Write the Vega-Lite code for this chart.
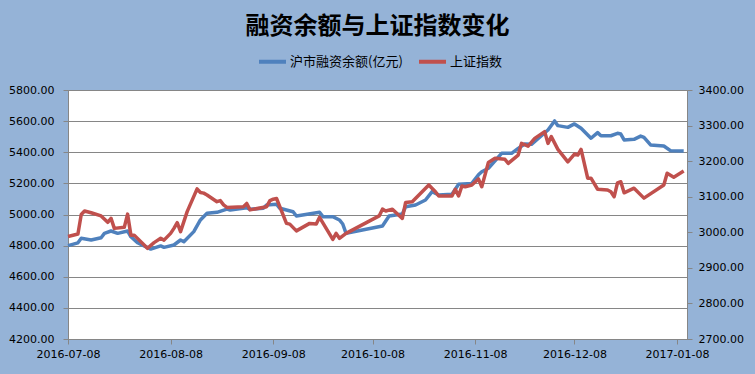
{
  "$schema": "https://vega.github.io/schema/vega-lite/v6.json",
  "width": 619,
  "height": 249,
  "autosize": {"type": "none"},
  "padding": {"left": 68, "top": 90, "right": 68, "bottom": 35},
  "background": "#95B3D7",
  "title": {
    "text": "融资余额与上证指数变化",
    "font": "Noto Sans CJK SC",
    "fontSize": 24,
    "fontWeight": "bold",
    "color": "#000000",
    "anchor": "middle",
    "offset": 7
  },
  "config": {
    "view": {"fill": "#FFFFFF", "stroke": "#868686", "strokeWidth": 1},
    "axis": {
      "labelFont": "DejaVu Sans",
      "labelFontSize": 11,
      "labelColor": "#000000",
      "domainColor": "#868686",
      "tickColor": "#868686",
      "gridColor": "#868686",
      "gridOpacity": 1,
      "title": null
    }
  },
  "data": {
    "values": [
      {"date": "2016-07-08", "series": "沪市融资余额(亿元)", "value": 4800},
      {"date": "2016-07-11", "series": "沪市融资余额(亿元)", "value": 4818},
      {"date": "2016-07-12", "series": "沪市融资余额(亿元)", "value": 4847},
      {"date": "2016-07-15", "series": "沪市融资余额(亿元)", "value": 4836},
      {"date": "2016-07-18", "series": "沪市融资余额(亿元)", "value": 4851},
      {"date": "2016-07-19", "series": "沪市融资余额(亿元)", "value": 4879},
      {"date": "2016-07-21", "series": "沪市融资余额(亿元)", "value": 4894},
      {"date": "2016-07-23", "series": "沪市融资余额(亿元)", "value": 4879},
      {"date": "2016-07-26", "series": "沪市融资余额(亿元)", "value": 4894},
      {"date": "2016-07-27", "series": "沪市融资余额(亿元)", "value": 4857},
      {"date": "2016-07-29", "series": "沪市融资余额(亿元)", "value": 4819},
      {"date": "2016-08-02", "series": "沪市融资余额(亿元)", "value": 4778},
      {"date": "2016-08-05", "series": "沪市融资余额(亿元)", "value": 4798},
      {"date": "2016-08-06", "series": "沪市融资余额(亿元)", "value": 4789},
      {"date": "2016-08-09", "series": "沪市融资余额(亿元)", "value": 4804},
      {"date": "2016-08-11", "series": "沪市融资余额(亿元)", "value": 4836},
      {"date": "2016-08-12", "series": "沪市融资余额(亿元)", "value": 4825},
      {"date": "2016-08-15", "series": "沪市融资余额(亿元)", "value": 4890},
      {"date": "2016-08-17", "series": "沪市融资余额(亿元)", "value": 4965},
      {"date": "2016-08-19", "series": "沪市融资余额(亿元)", "value": 5008},
      {"date": "2016-08-22", "series": "沪市融资余额(亿元)", "value": 5014},
      {"date": "2016-08-25", "series": "沪市融资余额(亿元)", "value": 5035},
      {"date": "2016-08-26", "series": "沪市融资余额(亿元)", "value": 5029},
      {"date": "2016-08-31", "series": "沪市融资余额(亿元)", "value": 5044},
      {"date": "2016-09-01", "series": "沪市融资余额(亿元)", "value": 5033},
      {"date": "2016-09-05", "series": "沪市融资余额(亿元)", "value": 5040},
      {"date": "2016-09-06", "series": "沪市融资余额(亿元)", "value": 5061},
      {"date": "2016-09-09", "series": "沪市融资余额(亿元)", "value": 5066},
      {"date": "2016-09-10", "series": "沪市融资余额(亿元)", "value": 5040},
      {"date": "2016-09-14", "series": "沪市融资余额(亿元)", "value": 5018},
      {"date": "2016-09-15", "series": "沪市融资余额(亿元)", "value": 4990},
      {"date": "2016-09-22", "series": "沪市融资余额(亿元)", "value": 5014},
      {"date": "2016-09-23", "series": "沪市融资余额(亿元)", "value": 4986},
      {"date": "2016-09-26", "series": "沪市融资余额(亿元)", "value": 4986},
      {"date": "2016-09-28", "series": "沪市融资余额(亿元)", "value": 4965},
      {"date": "2016-09-29", "series": "沪市融资余额(亿元)", "value": 4939},
      {"date": "2016-09-30", "series": "沪市融资余额(亿元)", "value": 4879},
      {"date": "2016-10-11", "series": "沪市融资余额(亿元)", "value": 4926},
      {"date": "2016-10-13", "series": "沪市融资余额(亿元)", "value": 4990},
      {"date": "2016-10-15", "series": "沪市融资余额(亿元)", "value": 4997},
      {"date": "2016-10-17", "series": "沪市融资余额(亿元)", "value": 5003},
      {"date": "2016-10-18", "series": "沪市融资余额(亿元)", "value": 5050},
      {"date": "2016-10-21", "series": "沪市融资余额(亿元)", "value": 5061},
      {"date": "2016-10-24", "series": "沪市融资余额(亿元)", "value": 5093},
      {"date": "2016-10-26", "series": "沪市融资余额(亿元)", "value": 5147},
      {"date": "2016-10-28", "series": "沪市融资余额(亿元)", "value": 5125},
      {"date": "2016-11-01", "series": "沪市融资余额(亿元)", "value": 5130},
      {"date": "2016-11-03", "series": "沪市融资余额(亿元)", "value": 5194},
      {"date": "2016-11-07", "series": "沪市融资余额(亿元)", "value": 5200},
      {"date": "2016-11-09", "series": "沪市融资余额(亿元)", "value": 5255},
      {"date": "2016-11-10", "series": "沪市融资余额(亿元)", "value": 5275},
      {"date": "2016-11-12", "series": "沪市融资余额(亿元)", "value": 5297},
      {"date": "2016-11-16", "series": "沪市融资余额(亿元)", "value": 5393},
      {"date": "2016-11-19", "series": "沪市融资余额(亿元)", "value": 5393},
      {"date": "2016-11-21", "series": "沪市融资余额(亿元)", "value": 5425},
      {"date": "2016-11-23", "series": "沪市融资余额(亿元)", "value": 5453},
      {"date": "2016-11-25", "series": "沪市融资余额(亿元)", "value": 5451},
      {"date": "2016-11-30", "series": "沪市融资余额(亿元)", "value": 5543},
      {"date": "2016-12-02", "series": "沪市融资余额(亿元)", "value": 5601},
      {"date": "2016-12-03", "series": "沪市融资余额(亿元)", "value": 5571},
      {"date": "2016-12-06", "series": "沪市融资余额(亿元)", "value": 5560},
      {"date": "2016-12-08", "series": "沪市融资余额(亿元)", "value": 5582},
      {"date": "2016-12-10", "series": "沪市融资余额(亿元)", "value": 5554},
      {"date": "2016-12-13", "series": "沪市融资余额(亿元)", "value": 5490},
      {"date": "2016-12-15", "series": "沪市融资余额(亿元)", "value": 5526},
      {"date": "2016-12-16", "series": "沪市融资余额(亿元)", "value": 5506},
      {"date": "2016-12-19", "series": "沪市融资余额(亿元)", "value": 5506},
      {"date": "2016-12-21", "series": "沪市融资余额(亿元)", "value": 5522},
      {"date": "2016-12-22", "series": "沪市融资余额(亿元)", "value": 5517},
      {"date": "2016-12-23", "series": "沪市融资余额(亿元)", "value": 5479},
      {"date": "2016-12-26", "series": "沪市融资余额(亿元)", "value": 5483},
      {"date": "2016-12-28", "series": "沪市融资余额(亿元)", "value": 5504},
      {"date": "2016-12-29", "series": "沪市融资余额(亿元)", "value": 5496},
      {"date": "2016-12-31", "series": "沪市融资余额(亿元)", "value": 5447},
      {"date": "2017-01-04", "series": "沪市融资余额(亿元)", "value": 5440},
      {"date": "2017-01-06", "series": "沪市融资余额(亿元)", "value": 5410},
      {"date": "2017-01-10", "series": "沪市融资余额(亿元)", "value": 5408},
      {"date": "2016-07-08", "series": "上证指数", "value": 2988},
      {"date": "2016-07-11", "series": "上证指数", "value": 2995},
      {"date": "2016-07-12", "series": "上证指数", "value": 3050},
      {"date": "2016-07-13", "series": "上证指数", "value": 3060},
      {"date": "2016-07-15", "series": "上证指数", "value": 3055},
      {"date": "2016-07-18", "series": "上证指数", "value": 3046},
      {"date": "2016-07-20", "series": "上证指数", "value": 3028},
      {"date": "2016-07-21", "series": "上证指数", "value": 3039},
      {"date": "2016-07-22", "series": "上证指数", "value": 3011},
      {"date": "2016-07-25", "series": "上证指数", "value": 3014},
      {"date": "2016-07-26", "series": "上证指数", "value": 3051},
      {"date": "2016-07-27", "series": "上证指数", "value": 2992},
      {"date": "2016-07-28", "series": "上证指数", "value": 2992},
      {"date": "2016-08-01", "series": "上证指数", "value": 2955},
      {"date": "2016-08-03", "series": "上证指数", "value": 2971},
      {"date": "2016-08-05", "series": "上证指数", "value": 2983},
      {"date": "2016-08-06", "series": "上证指数", "value": 2978},
      {"date": "2016-08-08", "series": "上证指数", "value": 2997},
      {"date": "2016-08-09", "series": "上证指数", "value": 3011},
      {"date": "2016-08-10", "series": "上证指数", "value": 3027},
      {"date": "2016-08-11", "series": "上证指数", "value": 3002},
      {"date": "2016-08-13", "series": "上证指数", "value": 3058},
      {"date": "2016-08-16", "series": "上证指数", "value": 3122},
      {"date": "2016-08-17", "series": "上证指数", "value": 3112},
      {"date": "2016-08-18", "series": "上证指数", "value": 3110},
      {"date": "2016-08-19", "series": "上证指数", "value": 3105},
      {"date": "2016-08-22", "series": "上证指数", "value": 3086},
      {"date": "2016-08-23", "series": "上证指数", "value": 3089},
      {"date": "2016-08-24", "series": "上证指数", "value": 3077},
      {"date": "2016-08-25", "series": "上证指数", "value": 3070},
      {"date": "2016-08-30", "series": "上证指数", "value": 3072},
      {"date": "2016-08-31", "series": "上证指数", "value": 3081},
      {"date": "2016-09-01", "series": "上证指数", "value": 3063},
      {"date": "2016-09-06", "series": "上证指数", "value": 3072},
      {"date": "2016-09-07", "series": "上证指数", "value": 3089},
      {"date": "2016-09-08", "series": "上证指数", "value": 3093},
      {"date": "2016-09-09", "series": "上证指数", "value": 3095},
      {"date": "2016-09-12", "series": "上证指数", "value": 3025},
      {"date": "2016-09-13", "series": "上证指数", "value": 3023},
      {"date": "2016-09-15", "series": "上证指数", "value": 3004},
      {"date": "2016-09-19", "series": "上证指数", "value": 3025},
      {"date": "2016-09-21", "series": "上证指数", "value": 3023},
      {"date": "2016-09-22", "series": "上证指数", "value": 3042},
      {"date": "2016-09-24", "series": "上证指数", "value": 3011},
      {"date": "2016-09-26", "series": "上证指数", "value": 2980},
      {"date": "2016-09-27", "series": "上证指数", "value": 2997},
      {"date": "2016-09-28", "series": "上证指数", "value": 2983},
      {"date": "2016-09-30", "series": "上证指数", "value": 2997},
      {"date": "2016-10-10", "series": "上证指数", "value": 3046},
      {"date": "2016-10-11", "series": "上证指数", "value": 3065},
      {"date": "2016-10-12", "series": "上证指数", "value": 3060},
      {"date": "2016-10-14", "series": "上证指数", "value": 3065},
      {"date": "2016-10-17", "series": "上证指数", "value": 3039},
      {"date": "2016-10-18", "series": "上证指数", "value": 3084},
      {"date": "2016-10-20", "series": "上证指数", "value": 3086},
      {"date": "2016-10-25", "series": "上证指数", "value": 3133},
      {"date": "2016-10-27", "series": "上证指数", "value": 3114},
      {"date": "2016-10-28", "series": "上证指数", "value": 3102},
      {"date": "2016-11-01", "series": "上证指数", "value": 3102},
      {"date": "2016-11-02", "series": "上证指数", "value": 3121},
      {"date": "2016-11-03", "series": "上证指数", "value": 3102},
      {"date": "2016-11-04", "series": "上证指数", "value": 3130},
      {"date": "2016-11-05", "series": "上证指数", "value": 3128},
      {"date": "2016-11-07", "series": "上证指数", "value": 3133},
      {"date": "2016-11-09", "series": "上证指数", "value": 3150},
      {"date": "2016-11-10", "series": "上证指数", "value": 3128},
      {"date": "2016-11-12", "series": "上证指数", "value": 3196},
      {"date": "2016-11-14", "series": "上证指数", "value": 3208},
      {"date": "2016-11-17", "series": "上证指数", "value": 3205},
      {"date": "2016-11-18", "series": "上证指数", "value": 3194},
      {"date": "2016-11-21", "series": "上证指数", "value": 3217},
      {"date": "2016-11-22", "series": "上证指数", "value": 3250},
      {"date": "2016-11-24", "series": "上证指数", "value": 3242},
      {"date": "2016-11-26", "series": "上证指数", "value": 3264},
      {"date": "2016-11-29", "series": "上证指数", "value": 3283},
      {"date": "2016-11-30", "series": "上证指数", "value": 3250},
      {"date": "2016-12-01", "series": "上证指数", "value": 3269},
      {"date": "2016-12-03", "series": "上证指数", "value": 3233},
      {"date": "2016-12-06", "series": "上证指数", "value": 3198},
      {"date": "2016-12-08", "series": "上证指数", "value": 3220},
      {"date": "2016-12-09", "series": "上证指数", "value": 3217},
      {"date": "2016-12-10", "series": "上证指数", "value": 3233},
      {"date": "2016-12-12", "series": "上证指数", "value": 3152},
      {"date": "2016-12-13", "series": "上证指数", "value": 3152},
      {"date": "2016-12-15", "series": "上证指数", "value": 3121},
      {"date": "2016-12-18", "series": "上证指数", "value": 3119},
      {"date": "2016-12-19", "series": "上证指数", "value": 3114},
      {"date": "2016-12-20", "series": "上证指数", "value": 3100},
      {"date": "2016-12-21", "series": "上证指数", "value": 3139},
      {"date": "2016-12-22", "series": "上证指数", "value": 3142},
      {"date": "2016-12-23", "series": "上证指数", "value": 3111},
      {"date": "2016-12-26", "series": "上证指数", "value": 3124},
      {"date": "2016-12-29", "series": "上证指数", "value": 3096},
      {"date": "2017-01-04", "series": "上证指数", "value": 3133},
      {"date": "2017-01-05", "series": "上证指数", "value": 3166},
      {"date": "2017-01-07", "series": "上证指数", "value": 3155},
      {"date": "2017-01-10", "series": "上证指数", "value": 3172}
    ]
  },
  "encoding": {
    "x": {
      "field": "date",
      "type": "temporal",
      "scale": {
        "type": "utc",
        "domain": [
          {"year": 2016, "month": 7, "date": 8, "utc": true},
          {"year": 2017, "month": 1, "date": 11, "utc": true}
        ],
        "nice": false
      },
      "axis": {
        "values": [
          {"year": 2016, "month": 7, "date": 8, "utc": true},
          {"year": 2016, "month": 8, "date": 8, "utc": true},
          {"year": 2016, "month": 9, "date": 8, "utc": true},
          {"year": 2016, "month": 10, "date": 8, "utc": true},
          {"year": 2016, "month": 11, "date": 8, "utc": true},
          {"year": 2016, "month": 12, "date": 8, "utc": true},
          {"year": 2017, "month": 1, "date": 8, "utc": true}
        ],
        "format": "%Y-%m-%d",
        "grid": false,
        "tickSize": 5,
        "labelPadding": 4,
        "labelOverlap": false,
        "labelBound": false,
        "labelFlush": false
      }
    },
    "color": {
      "field": "series",
      "type": "nominal",
      "scale": {
        "domain": ["沪市融资余额(亿元)", "上证指数"],
        "range": ["#4F81BD", "#C0504D"]
      },
      "legend": {
        "orient": "none",
        "direction": "horizontal",
        "legendX": 189,
        "legendY": -44,
        "title": null,
        "symbolType": "stroke",
        "symbolSize": 729,
        "symbolStrokeWidth": 4,
        "labelFont": "Noto Sans CJK SC",
        "labelFontSize": 13,
        "labelColor": "#000000",
        "labelOffset": 2,
        "columnPadding": 8
      }
    }
  },
  "layer": [
    {
      "transform": [{"filter": "datum.series === '沪市融资余额(亿元)'"}],
      "mark": {"type": "line", "strokeWidth": 3.5, "strokeJoin": "round"},
      "encoding": {
        "y": {
          "field": "value",
          "type": "quantitative",
          "scale": {"domain": [4200, 5800], "nice": false, "zero": false},
          "axis": {
            "orient": "left",
            "values": [4200, 4400, 4600, 4800, 5000, 5200, 5400, 5600, 5800],
            "format": ".2f",
            "grid": true,
            "tickSize": 5,
            "labelPadding": 9
          }
        }
      }
    },
    {
      "transform": [{"filter": "datum.series === '上证指数'"}],
      "mark": {"type": "line", "strokeWidth": 3.5, "strokeJoin": "round"},
      "encoding": {
        "y": {
          "field": "value",
          "type": "quantitative",
          "scale": {"domain": [2700, 3400], "nice": false, "zero": false},
          "axis": {
            "orient": "right",
            "values": [2700, 2800, 2900, 3000, 3100, 3200, 3300, 3400],
            "format": ".2f",
            "grid": false,
            "tickSize": 5,
            "labelPadding": 6
          }
        }
      }
    }
  ],
  "resolve": {"scale": {"y": "independent"}}
}
